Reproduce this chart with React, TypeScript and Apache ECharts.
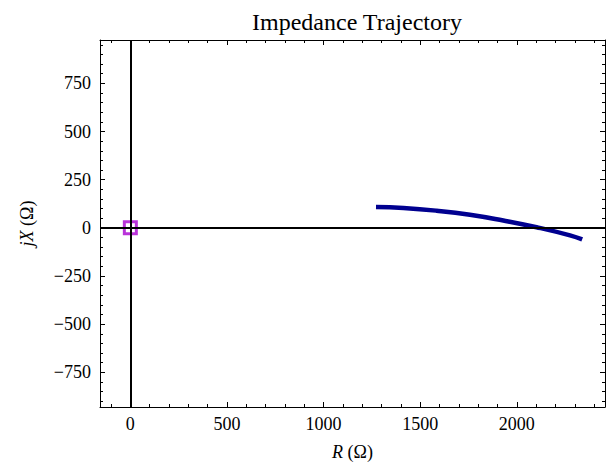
import React, { useEffect, useRef } from "react";
import * as echarts from "echarts";

const rValues = [1271, 1413, 1585, 1757, 1930, 2102, 2275, 2338];
const xValues = [108, 103, 89, 68, 38, 3, -39, -60];
const originR = [0];
const originX = [0];
const xMajorTicks = [0, 500, 1000, 1500, 2000];
const xMinorTicks = [-100, 100, 200, 300, 400, 600, 700, 800, 900, 1100, 1200, 1300, 1400, 1600, 1700, 1800, 1900, 2100, 2200, 2300, 2400];
const yMajorTicks = [-750, -500, -250, 0, 250, 500, 750];
const yMinorTicks = [-900, -850, -800, -700, -650, -600, -550, -450, -400, -350, -300, -200, -150, -100, -50, 50, 100, 150, 200, 300, 350, 400, 450, 550, 600, 650, 700, 800, 850, 900, 950];

const X_MIN = -157;
const X_MAX = 2456;
const Y_MIN = -930;
const Y_MAX = 975;
const FONT = "'Liberation Serif', 'DejaVu Serif', serif";

function fmt(v: number) {
  return String(v).replace("-", "\u2212");
}

export default function App() {
  const ref = useRef<HTMLDivElement>(null);
  useEffect(() => {
    if (!ref.current) return;
    const chart = echarts.init(ref.current, undefined, { renderer: "svg" });
    const line = { lineStyle: { color: "#000", width: 1 } };
    const mkX = (pos: "top" | "bottom", major: boolean, labels: boolean, named: boolean) => ({
      type: "value",
      min: X_MIN,
      max: X_MAX,
      position: pos,
      axisLine: { show: major, onZero: false, ...line },
      axisTick: {
        show: true,
        inside: true,
        length: major ? 5 : 3,
        customValues: major ? xMajorTicks : xMinorTicks,
        ...line,
      },
      axisLabel: labels
        ? {
            show: true,
            customValues: xMajorTicks,
            formatter: (v: number) => fmt(v),
            fontFamily: FONT,
            fontSize: 18,
            color: "#000",
            margin: 8,
          }
        : { show: false },
      splitLine: { show: false },
      ...(named
        ? {
            name: "{i|R} (\u03A9)",
            nameLocation: "middle",
            nameGap: 36,
            nameTextStyle: {
              fontFamily: FONT,
              fontSize: 18,
              color: "#000",
              rich: { i: { fontStyle: "italic", fontFamily: FONT, fontSize: 18, color: "#000" } },
            },
          }
        : {}),
    });
    const mkY = (pos: "left" | "right", major: boolean, labels: boolean, named: boolean) => ({
      type: "value",
      min: Y_MIN,
      max: Y_MAX,
      position: pos,
      axisLine: { show: major, onZero: false, ...line },
      axisTick: {
        show: true,
        inside: true,
        length: major ? 5 : 3,
        customValues: major ? yMajorTicks : yMinorTicks,
        ...line,
      },
      axisLabel: labels
        ? {
            show: true,
            customValues: yMajorTicks,
            formatter: (v: number) => fmt(v),
            fontFamily: FONT,
            fontSize: 18,
            color: "#000",
            margin: 9,
          }
        : { show: false },
      splitLine: { show: false },
      ...(named
        ? {
            name: "{i|jX} (\u03A9)",
            nameLocation: "middle",
            nameGap: 64,
            nameRotate: 90,
            nameTextStyle: {
              fontFamily: FONT,
              fontSize: 18,
              color: "#000",
              rich: { i: { fontStyle: "italic", fontFamily: FONT, fontSize: 18, color: "#000" } },
            },
          }
        : {}),
    });
    chart.setOption({
      animation: false,
      title: {
        text: "Impedance Trajectory",
        left: 352,
        top: 5,
        textAlign: "center",
        textStyle: { fontFamily: FONT, fontSize: 24, fontWeight: "normal", color: "#000" },
      },
      grid: { left: 100, top: 40, right: 7, bottom: 55, containLabel: false },
      xAxis: [
        mkX("bottom", true, true, true),
        mkX("bottom", false, false, false),
        mkX("top", true, false, false),
        mkX("top", false, false, false),
      ],
      yAxis: [
        mkY("left", true, true, true),
        mkY("left", false, false, false),
        mkY("right", true, false, false),
        mkY("right", false, false, false),
      ],
      series: [
        {
          type: "line",
          xAxisIndex: 0,
          yAxisIndex: 0,
          data: [],
          markLine: {
            silent: true,
            symbol: "none",
            label: { show: false },
            lineStyle: { color: "#000", width: 2, type: "solid" },
            data: [{ xAxis: 0 }, { yAxis: 0 }],
          },
        },
        {
          type: "line",
          xAxisIndex: 0,
          yAxisIndex: 0,
          data: rValues.map((r, i) => [r, xValues[i]]),
          showSymbol: false,
          smooth: true,
          lineStyle: { color: "#000090", width: 4.5 },
        },
        {
          type: "scatter",
          xAxisIndex: 0,
          yAxisIndex: 0,
          data: originR.map((r, i) => [r, originX[i]]),
          symbol: "rect",
          symbolSize: 12,
          itemStyle: { color: "rgba(0,0,0,0)", borderColor: "#A800D0", borderWidth: 3 },
        },
      ],
    });
    return () => chart.dispose();
  }, []);
  return (
    <div
      ref={ref}
      style={{ position: "fixed", left: 0, top: 0, width: 612, height: 466, background: "#fff" }}
    />
  );
}
